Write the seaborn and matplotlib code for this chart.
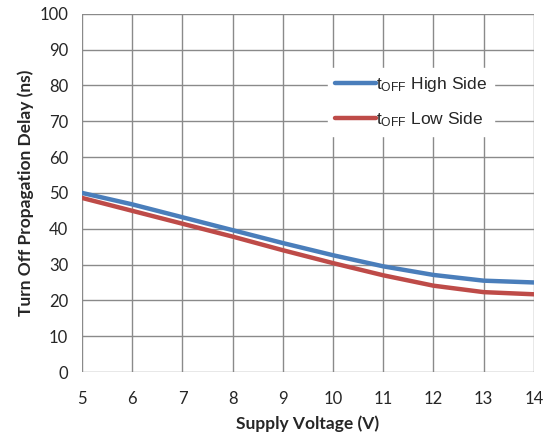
import numpy as np
import pandas as pd
import matplotlib
matplotlib.use('Agg')
import matplotlib.pyplot as plt
import seaborn as sns

# Values
supply_voltage = [5, 6, 7, 8, 9, 10, 11, 12, 13, 14]
toff_high_side = [50.0, 46.8, 43.2, 39.6, 36.0, 32.6, 29.5, 27.1, 25.5, 25.0]
toff_low_side = [48.6, 45.0, 41.4, 37.8, 34.0, 30.4, 27.0, 24.1, 22.3, 21.7]
series_names = [r'$\mathregular{t_{OFF}}$ High Side', r'$\mathregular{t_{OFF}}$ Low Side']

df = pd.concat([
    pd.DataFrame({'voltage': supply_voltage, 'delay': toff_high_side, 'series': series_names[0]}),
    pd.DataFrame({'voltage': supply_voltage, 'delay': toff_low_side, 'series': series_names[1]}),
])

sns.set_style('white')
plt.rcParams['font.family'] = ['Lato', 'DejaVu Sans']

fig = plt.figure(figsize=(5.47, 4.45), dpi=100)
ax = fig.add_axes([0.150, 0.164, 0.826, 0.805])

sns.lineplot(data=df, x='voltage', y='delay', hue='series',
             palette=['#4a7ebb', '#be4b48'], linewidth=3.2, ax=ax)

ax.set_xlim(5, 14)
ax.set_ylim(0, 100)
ax.set_xticks(range(5, 15))
ax.set_yticks(range(0, 101, 10))
ax.grid(True, color='#8a8a8a', linewidth=1.0)
ax.set_axisbelow(True)
for side in ['top', 'right', 'left', 'bottom']:
    ax.spines[side].set_visible(False)
ax.tick_params(axis='both', length=6, width=1, color='#8a8a8a', labelsize=12, pad=8)
ax.tick_params(axis='y', pad=4)

ax.set_xlabel('Supply Voltage (V)', fontsize=12.5, fontweight='bold', labelpad=6)
ax.set_ylabel('Turn Off Propagation Delay (ns)', fontsize=12.5, fontweight='bold', labelpad=4)

leg = ax.legend(loc='center', bbox_to_anchor=(0.728, 0.754), frameon=True, fancybox=False,
                framealpha=1.0, edgecolor='white', handlelength=2.4, handletextpad=0.0,
                labelspacing=0.95,
                prop={'family': ['Liberation Sans', 'DejaVu Sans'], 'size': 12.5})
for line in leg.get_lines():
    line.set_linewidth(3.2)

fig.savefig('out.png', dpi=100)
